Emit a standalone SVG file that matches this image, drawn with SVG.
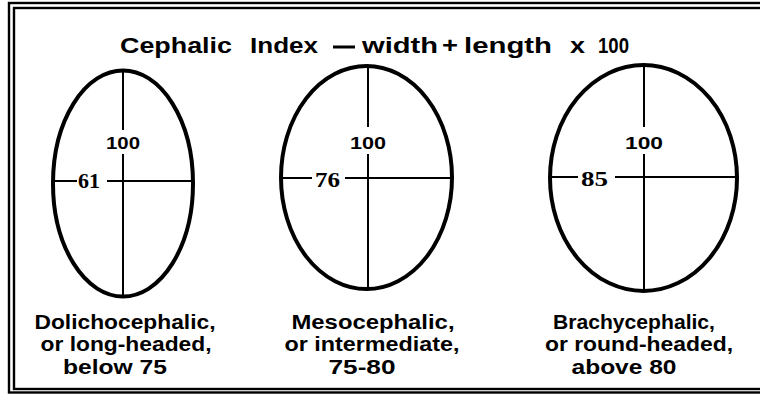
<svg xmlns="http://www.w3.org/2000/svg" width="760" height="396" viewBox="0 0 760 396">
<style>
.frame{fill:none;stroke:#000;stroke-width:2.4}
.head{fill:none;stroke:#000;stroke-width:4}
.axis{stroke:#000;stroke-width:2;fill:none}
.title{font-family:"Liberation Sans",Arial,sans-serif;font-weight:bold;font-size:22px;fill:#000}
.num{font-family:"Liberation Serif","Times New Roman",serif;font-weight:bold;font-size:20px;fill:#000}
.num100{font-family:"Liberation Sans",Arial,sans-serif;font-weight:bold;font-size:16px;fill:#000}
.lbl{font-family:"Liberation Sans",Arial,sans-serif;font-weight:bold;font-size:20px;fill:#000;text-anchor:middle}
</style>
<rect width="760" height="396" fill="#fff"/>
<g id="frame">
<rect class="frame" x="9" y="3" width="760" height="389.5"/>
<rect class="frame" x="14" y="8" width="760" height="381"/>
</g>
<g id="title">
<text class="title" x="120" y="53" textLength="112" lengthAdjust="spacingAndGlyphs">Cephalic</text>
<text class="title" x="250" y="53" textLength="68" lengthAdjust="spacingAndGlyphs">Index</text>
<line x1="333" y1="47" x2="355" y2="47" stroke="#000" stroke-width="3"/>
<text class="title" x="362" y="53" textLength="76" lengthAdjust="spacingAndGlyphs">width</text>
<text class="title" x="442" y="53" textLength="16" lengthAdjust="spacingAndGlyphs">+</text>
<text class="title" x="464" y="53" textLength="88" lengthAdjust="spacingAndGlyphs">length</text>
<text class="title" x="570" y="53" textLength="15" lengthAdjust="spacingAndGlyphs">x</text>
<text class="title" x="598" y="53" font-size="20" textLength="31" lengthAdjust="spacingAndGlyphs">100</text>
</g>
<g id="dolichocephalic">
<ellipse class="head" cx="123" cy="183.5" rx="70" ry="113"/>
<path class="axis" d="M123 71V130M123 154V296M55 181H77M107 181H191"/>
<text class="num100" x="123" y="149" text-anchor="middle" textLength="34" lengthAdjust="spacingAndGlyphs">100</text>
<text class="num" x="78" y="188" textLength="22" lengthAdjust="spacingAndGlyphs">61</text>
<text class="lbl" x="125" y="329" textLength="181" lengthAdjust="spacingAndGlyphs">Dolichocephalic,</text>
<text class="lbl" x="126" y="351" textLength="171" lengthAdjust="spacingAndGlyphs">or long-headed,</text>
<text class="lbl" x="115" y="374" textLength="104" lengthAdjust="spacingAndGlyphs">below 75</text>
</g>
<g id="mesocephalic">
<ellipse class="head" cx="366.5" cy="177.5" rx="85.5" ry="111.5"/>
<path class="axis" d="M368 67V127M368 154V288M283 178H312M345 178H451"/>
<text class="num100" x="368" y="149" text-anchor="middle" textLength="36" lengthAdjust="spacingAndGlyphs">100</text>
<text class="num" x="315" y="187" textLength="25" lengthAdjust="spacingAndGlyphs">76</text>
<text class="lbl" x="373" y="329" textLength="163" lengthAdjust="spacingAndGlyphs">Mesocephalic,</text>
<text class="lbl" x="372" y="351" textLength="175" lengthAdjust="spacingAndGlyphs">or intermediate,</text>
<text class="lbl" x="362" y="374" textLength="67" lengthAdjust="spacingAndGlyphs">75-80</text>
</g>
<g id="brachycephalic">
<ellipse class="head" cx="643.5" cy="178" rx="93.5" ry="113"/>
<path class="axis" d="M644 66V127M644 154V290M552 177H578M615 177H736"/>
<text class="num100" x="644" y="149" text-anchor="middle" textLength="38" lengthAdjust="spacingAndGlyphs">100</text>
<text class="num" x="581" y="186" textLength="27" lengthAdjust="spacingAndGlyphs">85</text>
<text class="lbl" x="634" y="329" textLength="162" lengthAdjust="spacingAndGlyphs">Brachycephalic,</text>
<text class="lbl" x="639" y="351" textLength="188" lengthAdjust="spacingAndGlyphs">or round-headed,</text>
<text class="lbl" x="624" y="374" textLength="105" lengthAdjust="spacingAndGlyphs">above 80</text>
</g>
<g id="connectors"/>
</svg>
